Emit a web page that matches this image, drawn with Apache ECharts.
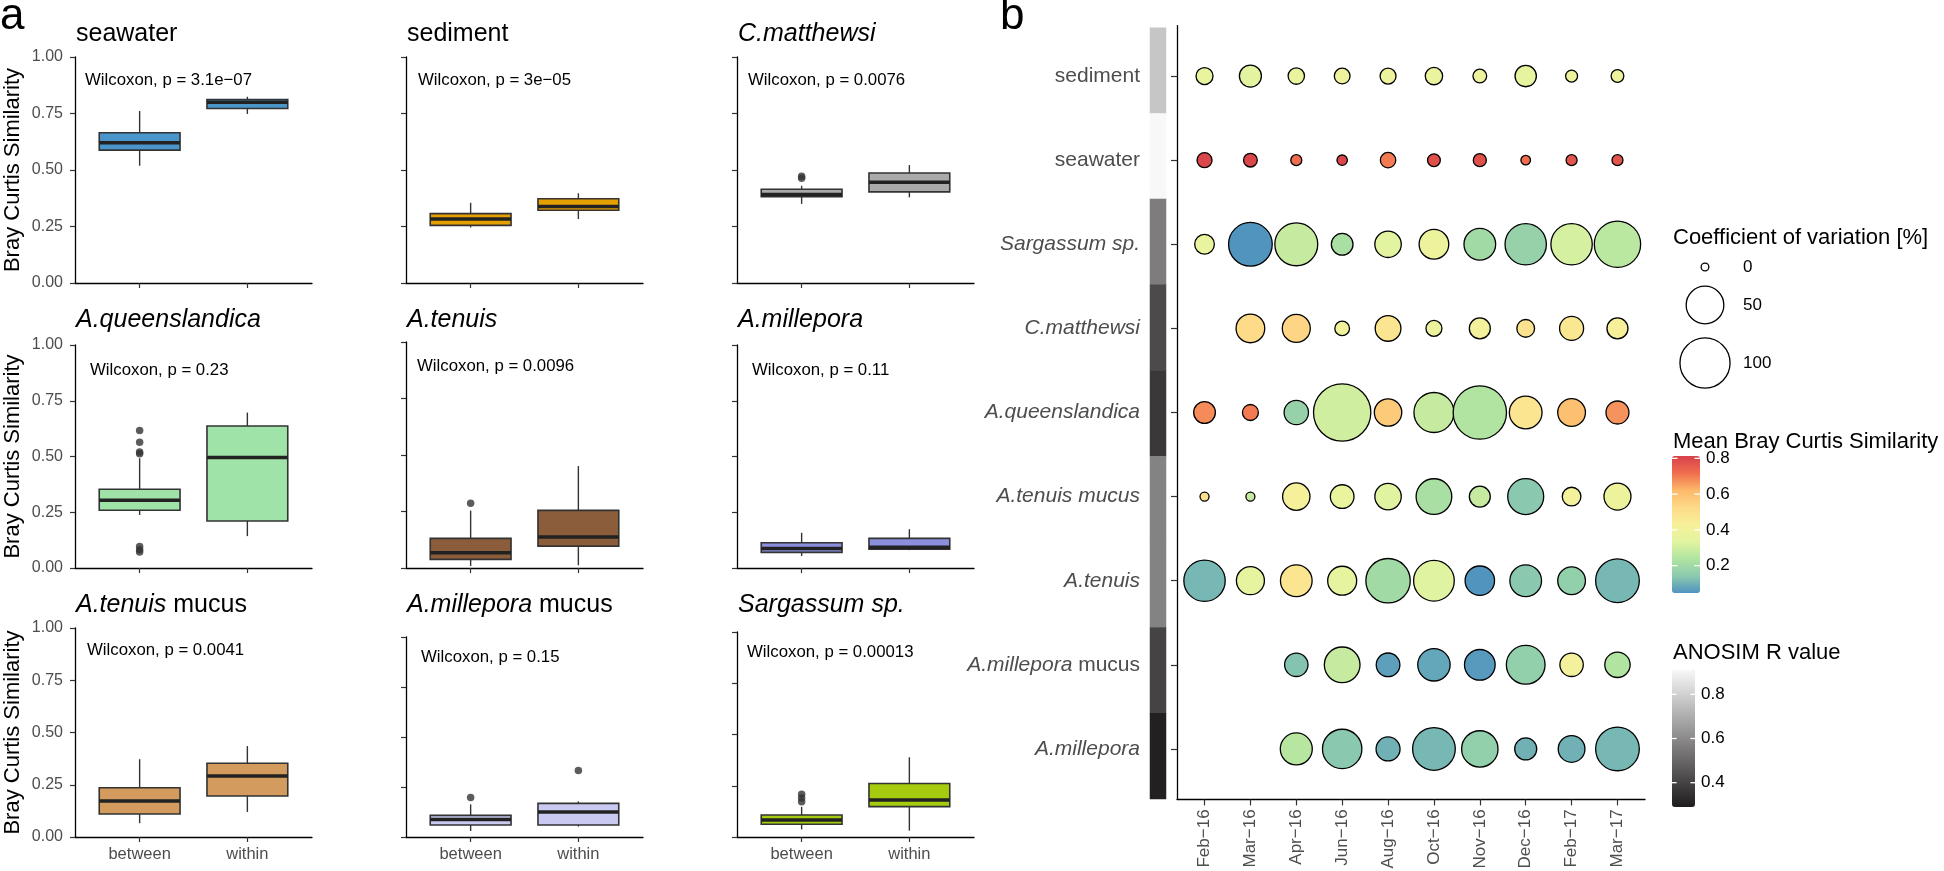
<!DOCTYPE html>
<html><head><meta charset="utf-8">
<script src="https://cdn.jsdelivr.net/npm/echarts@6/dist/echarts.min.js"></script>
<style>html,body{margin:0;padding:0;background:#fff}#c{width:1944px;height:871px}</style>
</head><body><div id="c"></div>
<script>
const FONT = 'Liberation Sans, Arial, Helvetica, sans-serif';

// ---------------- Panel a data ----------------
const boxPanels = ['seawater','sediment','C.matthewsi','A.queenslandica','A.tenuis','A.millepora','A.tenuis mucus','A.millepora mucus','Sargassum sp.'];
const boxTitlesRich = ['{n|seawater}','{n|sediment}','{i|C.matthewsi}','{i|A.queenslandica}','{i|A.tenuis}','{i|A.millepora}','{i|A.tenuis}{n| mucus}','{i|A.millepora}{n| mucus}','{i|Sargassum sp.}'];
const boxCategories = ['between','within'];
const pValues = ['3.1e\u221207','3e\u221205','0.0076','0.23','0.0096','0.11','0.0041','0.15','0.00013'];
const yTicks = [0, 0.25, 0.5, 0.75, 1];
// [lower whisker, Q1, median, Q3, upper whisker]  -> [between, within]
const statsSeawater  = [[0.519,0.588,0.621,0.665,0.761],[0.748,0.772,0.800,0.812,0.824]];
const statsSediment  = [[0.246,0.255,0.283,0.307,0.355],[0.283,0.322,0.338,0.373,0.397]];
const statsCmatthewsi= [[0.350,0.382,0.392,0.415,0.430],[0.379,0.403,0.446,0.487,0.522]];
const statsAqueens   = [[0.238,0.259,0.304,0.353,0.492],[0.143,0.211,0.496,0.637,0.697]];
const statsAtenuis   = [[0.009,0.038,0.068,0.131,0.254],[0.012,0.097,0.137,0.255,0.451]];
const statsAmillepora= [[0.054,0.070,0.088,0.113,0.158],[0.080,0.084,0.093,0.133,0.174]];
const statsAtenMucus = [[0.066,0.110,0.172,0.236,0.372],[0.120,0.196,0.292,0.353,0.435]];
const statsAmilMucus = [[0.030,0.060,0.087,0.108,0.163],[0.052,0.060,0.125,0.168,0.178]];
const statsSargassum = [[0.037,0.062,0.083,0.107,0.147],[0.031,0.148,0.180,0.261,0.389]];
// outliers [between, within]
const outSeawater  = [[],[]];
const outSediment  = [[],[]];
const outCmatthewsi= [[0.463,0.472],[]];
const outAqueens   = [[0.617,0.564,0.520,0.512,0.096,0.082,0.072],[]];
const outAtenuis   = [[0.286],[]];
const outAmillepora= [[],[]];
const outAtenMucus = [[],[]];
const outAmilMucus = [[0.197],[0.332]];
const outSargassum = [[0.208,0.190,0.172],[]];
const boxColors = ['#4a95c9','#e69f00','#aaaaaa','#a0e3a8','#8c5d3a','#8b8fdc','#d39b5e','#c9c9f2','#a5cc0f'];

const allStats = [statsSeawater,statsSediment,statsCmatthewsi,statsAqueens,statsAtenuis,statsAmillepora,statsAtenMucus,statsAmilMucus,statsSargassum];
const allOut = [outSeawater,outSediment,outCmatthewsi,outAqueens,outAtenuis,outAmillepora,outAtenMucus,outAmilMucus,outSargassum];

// ---------------- Panel b data ----------------
const months = ['Feb\u221216','Mar\u221216','Apr\u221216','Jun\u221216','Aug\u221216','Oct\u221216','Nov\u221216','Dec\u221216','Feb\u221217','Mar\u221217'];
const groups = ['sediment','seawater','Sargassum sp.','C.matthewsi','A.queenslandica','A.tenuis mucus','A.tenuis','A.millepora mucus','A.millepora'];
const groupLabelsRich = ['{n|sediment}','{n|seawater}','{i|Sargassum sp.}','{i|C.matthewsi}','{i|A.queenslandica}','{i|A.tenuis mucus}','{i|A.tenuis}','{i|A.millepora}{n| mucus}','{i|A.millepora}'];
// coefficient of variation [%]
const cvSediment   = [4.8, 11.4, 4.2, 3.6, 3.8, 5.2, 2.0, 10.4, 1.0, 1.4];
const cvSeawater   = [3.0, 2.0, 0.6, 0.4, 3.3, 1.4, 1.6, 0.2, 0.6, 0.6];
const cvSargassum  = [8.0, 72, 69, 10.9, 19.5, 26.9, 32, 63, 63, 83];
const cvCmatthewsi = [null, 24.5, 22.9, 2.7, 18, 3.8, 9.8, 5.6, 14.8, 9.8];
const cvAqueens    = [10.9, 3.8, 15.5, 137, 21.6, 58, 116, 34.8, 22.3, 13];
const cvAtenMucus  = [0.1, 0.1, 21.6, 14.2, 19.5, 43.6, 9.8, 44.5, 6.7, 20.7];
const cvAtenuis    = [63, 22.9, 32, 25.2, 75, 60.5, 26.2, 32, 22.3, 72];
const cvAmilMucus  = [null, null, 13.7, 43.6, 14.2, 33.9, 29.4, 53.5, 13.7, 17.4];
const cvAmillepora = [null, null, 32.8, 55.9, 14.8, 68.1, 45.8, 11.4, 20.1, 72];
// mean Bray Curtis similarity
const mbcSediment   = [0.37,0.34,0.37,0.38,0.38,0.37,0.39,0.35,0.39,0.38];
const mbcSeawater   = [0.80,0.80,0.72,0.80,0.70,0.78,0.78,0.72,0.77,0.77];
const mbcSargassum  = [0.37,0.05,0.28,0.22,0.34,0.38,0.20,0.17,0.31,0.26];
const mbcCmatthewsi = [null,0.52,0.54,0.40,0.48,0.38,0.41,0.49,0.47,0.42];
const mbcAqueens    = [0.68,0.70,0.17,0.30,0.57,0.28,0.24,0.48,0.60,0.67];
const mbcAtenMucus  = [0.50,0.28,0.42,0.37,0.33,0.22,0.28,0.14,0.41,0.38];
const mbcAtenuis    = [0.11,0.35,0.48,0.35,0.20,0.33,0.05,0.14,0.16,0.11];
const mbcAmilMucus  = [null,null,0.13,0.28,0.07,0.08,0.06,0.16,0.41,0.24];
const mbcAmillepora = [null,null,0.25,0.14,0.10,0.11,0.16,0.10,0.10,0.11];
// ANOSIM R per group
const anosimR = [0.77, 0.91, 0.56, 0.42, 0.37, 0.58, 0.58, 0.40, 0.30];
const sizeLegendValues = [0, 50, 100];
const mbcTicks = [0.2, 0.4, 0.6, 0.8];
const anosimTicks = [0.4, 0.6, 0.8];
const mbcRange = [0.047, 0.813];
const anosimRange = [0.29, 0.91];
const mbcPalette = ['#4f93c0','#8ccaae','#b0e4a0','#e2f4a0','#f8f09a','#fdda88','#fdb86a','#ef6e4e','#d8404a'];

const allCv = [cvSediment,cvSeawater,cvSargassum,cvCmatthewsi,cvAqueens,cvAtenMucus,cvAtenuis,cvAmilMucus,cvAmillepora];
const allMbc = [mbcSediment,mbcSeawater,mbcSargassum,mbcCmatthewsi,mbcAqueens,mbcAtenMucus,mbcAtenuis,mbcAmilMucus,mbcAmillepora];

// ---------------- layout ----------------
const panelLayout = [
  {left:75, top:57, bottom:283},{left:406, top:57, bottom:283},{left:737, top:57, bottom:283},
  {left:75, top:345, bottom:568},{left:406, top:342, bottom:568},{left:737, top:345, bottom:568},
  {left:75, top:628, bottom:837},{left:406, top:637, bottom:837},{left:737, top:632, bottom:837}];
const panelW = 237;
const titleY = [34.5,34.5,34.5,320.5,320,320.5,605.5,605,605];
const wilcoxPos = [[85,80],[418,80],[748,80],[90,370],[417,366],[752,370],[87,650],[421,657],[747,652]];

function bubbleSize(cv){ return 9 + 4.24*Math.sqrt(cv) - 1.3; }

function boxRenderer(color){
  return function(params, api){
    const x = api.value(0);
    const lo = api.coord([x, api.value(1)]);
    const q1 = api.coord([x, api.value(2)]);
    const md = api.coord([x, api.value(3)]);
    const q3 = api.coord([x, api.value(4)]);
    const hi = api.coord([x, api.value(5)]);
    const half = api.size([0.375, 0])[0];
    const cx = lo[0];
    return {type:'group', children:[
      {type:'line', shape:{x1:cx,y1:hi[1],x2:cx,y2:q3[1]}, style:{stroke:'#333333',lineWidth:1.4}},
      {type:'line', shape:{x1:cx,y1:q1[1],x2:cx,y2:lo[1]}, style:{stroke:'#333333',lineWidth:1.4}},
      {type:'rect', shape:{x:cx-half,y:q3[1],width:2*half,height:Math.max(q1[1]-q3[1],0.5)}, style:{fill:color,stroke:'#333333',lineWidth:1.6}},
      {type:'line', shape:{x1:cx-half,y1:md[1],x2:cx+half,y2:md[1]}, style:{stroke:'#222222',lineWidth:3.5}}
    ]};
  };
}

const grids = [], xAxes = [], yAxes = [], series = [], graphics = [];
const richTitle = {
  i:{fontStyle:'italic', fontSize:25, fontFamily:FONT, fill:'#000'},
  n:{fontSize:25, fontFamily:FONT, fill:'#000'}
};

boxPanels.forEach((name, k) => {
  const L = panelLayout[k];
  const col = k % 3, row = Math.floor(k/3);
  grids.push({left:L.left, top:L.top, width:panelW, height:L.bottom-L.top, outerBoundsMode:'none', containLabel:false});
  xAxes.push({
    type:'value', gridIndex:k, min:0.4, max:2.6,
    axisLine:{show:true, onZero:false, lineStyle:{color:'#000', width:1.3}},
    axisTick:{show:true, customValues:[1,2], length:5, lineStyle:{color:'#333', width:1.2}},
    axisLabel:{show: row===2, customValues:[1,2], margin:9, fontSize:16.5, color:'#4d4d4d', fontFamily:FONT,
      formatter: v => boxCategories[Math.round(v)-1]},
    splitLine:{show:false}
  });
  yAxes.push({
    type:'value', gridIndex:k, min:0, max:1, interval:0.25,
    axisLine:{show:true, lineStyle:{color:'#000', width:1.3}},
    axisTick:{show:true, length:5, lineStyle:{color:'#333', width:1.2}},
    axisLabel:{show: col===0, margin:12, fontSize:16, color:'#4d4d4d', fontFamily:FONT, formatter: v => v.toFixed(2)},
    splitLine:{show:false},
    name: col===0 ? 'Bray Curtis Similarity' : '',
    nameLocation:'middle', nameGap:51, nameRotate:90, nameMoveOverlap:false,
    nameTextStyle:{fontSize:22, color:'#000', fontFamily:FONT}
  });
  const st = allStats[k];
  series.push({
    type:'custom', xAxisIndex:k, yAxisIndex:k, renderItem: boxRenderer(boxColors[k]),
    encode:{x:0, y:[1,2,3,4,5]},
    data: boxCategories.map((c, j) => [j+1].concat(st[j])),
    silent:true, animation:false
  });
  const outs = [];
  allOut[k].forEach((arr, j) => arr.forEach(v => outs.push([j+1, v])));
  series.push({
    type:'scatter', xAxisIndex:k, yAxisIndex:k, data:outs, symbol:'circle', symbolSize:7.5,
    itemStyle:{color:'#333333'}, silent:true, animation:false
  });
  graphics.push({type:'text', style:{text:boxTitlesRich[k], rich:richTitle, x:L.left+1, y:titleY[k], verticalAlign:'middle', align:'left'}});
  graphics.push({type:'text', style:{text:'Wilcoxon, p = ' + pValues[k], x:wilcoxPos[k][0], y:wilcoxPos[k][1],
    verticalAlign:'middle', align:'left', font:'16.8px ' + FONT, fill:'#000'}});
});

// panel letters
graphics.push({type:'text', style:{text:'a', x:0, y:17, verticalAlign:'middle', font:'44px ' + FONT, fill:'#000'}});
graphics.push({type:'text', style:{text:'b', x:1000, y:17, verticalAlign:'middle', font:'44px ' + FONT, fill:'#000'}});

// ---------------- Panel b: bubble grid ----------------
const BG = 9;
grids.push({left:1177, top:25.6, width:468, height:773.8, outerBoundsMode:'none', containLabel:false});
const axisRich = {
  i:{fontStyle:'italic', fontSize:21, color:'#4d4d4d', fontFamily:FONT},
  n:{fontSize:21, color:'#4d4d4d', fontFamily:FONT}
};
xAxes.push({
  type:'value', gridIndex:BG, min:-0.6, max:9.6,
  axisLine:{show:true, onZero:false, lineStyle:{color:'#000', width:1.3}},
  axisTick:{show:true, customValues:months.map((m,i)=>i), length:6, lineStyle:{color:'#333', width:1.2}},
  axisLabel:{show:true, customValues:months.map((m,i)=>i), rotate:90, margin:10, fontSize:17, color:'#4d4d4d', fontFamily:FONT,
    formatter: v => months[Math.round(v)]},
  splitLine:{show:false}
});
yAxes.push({
  type:'value', gridIndex:BG, min:-0.6, max:8.6, inverse:true,
  axisLine:{show:true, onZero:false, lineStyle:{color:'#000', width:1.3}},
  axisTick:{show:true, customValues:groups.map((g,i)=>i), length:6, lineStyle:{color:'#333', width:1.2}},
  axisLabel:{show:true, customValues:groups.map((g,i)=>i), margin:37, rich:axisRich,
    formatter: v => groupLabelsRich[Math.round(v)]},
  splitLine:{show:false}
});
const bubbleData = [];
groups.forEach((g, gi) => {
  months.forEach((m, mi) => {
    const cv = allCv[gi][mi], mbc = allMbc[gi][mi];
    if (cv !== null && mbc !== null) bubbleData.push([mi, gi, cv, mbc]);
  });
});
const bubbleSeriesIndex = series.length;
series.push({
  type:'scatter', xAxisIndex:BG, yAxisIndex:BG, data:bubbleData, symbol:'circle',
  symbolSize: val => bubbleSize(val[2]),
  itemStyle:{borderColor:'#000', borderWidth:1.3, opacity:1},
  silent:true, animation:false
});

// ANOSIM strip
const SG = 10;
grids.push({left:1150, top:27.7, width:16, height:771.3, outerBoundsMode:'none', containLabel:false});
xAxes.push({type:'category', gridIndex:SG, data:[''], show:false});
yAxes.push({type:'category', gridIndex:SG, data:groups, inverse:true, show:false});
const stripSeriesIndex = series.length;
series.push({
  type:'heatmap', xAxisIndex:SG, yAxisIndex:SG, data: groups.map((g,i)=>[0,i,anosimR[i]]),
  itemStyle:{borderWidth:0}, silent:true, animation:false
});

// ---------------- legends ----------------
const LX = 1673;
graphics.push({type:'text', style:{text:'Coefficient of variation [%]', x:LX, y:238, verticalAlign:'middle', font:'22px ' + FONT, fill:'#000'}});
const sizeLegendY = [267, 305, 363];
sizeLegendValues.forEach((v, i) => {
  graphics.push({type:'circle', shape:{cx:1705, cy:sizeLegendY[i], r:bubbleSize(v)/2}, style:{fill:'#fff', stroke:'#000', lineWidth:1.3}});
  graphics.push({type:'text', style:{text:String(v), x:1743, y:sizeLegendY[i], verticalAlign:'middle', font:'17px ' + FONT, fill:'#000'}});
});
graphics.push({type:'text', style:{text:'Mean Bray Curtis Similarity', x:LX, y:442, verticalAlign:'middle', font:'22px ' + FONT, fill:'#000'}});
graphics.push({type:'text', style:{text:'ANOSIM R value', x:LX, y:653, verticalAlign:'middle', font:'22px ' + FONT, fill:'#000'}});

const mbcBar = {x:1672, y:456, w:28, h:137};
const anoBar = {x:1672, y:670, w:23, h:137};
function barTicks(bar, range, ticks){
  ticks.forEach(t => {
    const y = bar.y + (range[1]-t)/(range[1]-range[0])*bar.h;
    graphics.push({type:'line', z:100, shape:{x1:bar.x, y1:y, x2:bar.x+bar.w/5, y2:y}, style:{stroke:'#fff', lineWidth:1.3}});
    graphics.push({type:'line', z:100, shape:{x1:bar.x+bar.w*4/5, y1:y, x2:bar.x+bar.w, y2:y}, style:{stroke:'#fff', lineWidth:1.3}});
    graphics.push({type:'text', style:{text:t.toFixed(1), x:bar.x+bar.w+6, y:y, verticalAlign:'middle', font:'17px ' + FONT, fill:'#000'}});
  });
}
barTicks(mbcBar, mbcRange, mbcTicks);
barTicks(anoBar, anosimRange, anosimTicks);

const option = {
  backgroundColor:'#fff',
  animation:false,
  textStyle:{fontFamily:FONT},
  grid:grids, xAxis:xAxes, yAxis:yAxes, series:series,
  visualMap:[
    {type:'continuous', seriesIndex:bubbleSeriesIndex, dimension:3, min:mbcRange[0], max:mbcRange[1],
     inRange:{color:mbcPalette}, left:mbcBar.x, top:mbcBar.y, itemWidth:mbcBar.w, itemHeight:mbcBar.h,
     padding:0, calculable:false, text:null, showLabel:false, hoverLink:false, realtime:false},
    {type:'continuous', seriesIndex:stripSeriesIndex, dimension:2, min:anosimRange[0], max:anosimRange[1],
     inRange:{color:['#1f1c1d','#f8f8f8']}, left:anoBar.x, top:anoBar.y, itemWidth:anoBar.w, itemHeight:anoBar.h,
     padding:0, calculable:false, text:null, showLabel:false, hoverLink:false, realtime:false}
  ],
  graphic:{elements:graphics}
};
const chart = echarts.init(document.getElementById('c'), null, {renderer:'canvas'});
chart.setOption(option);
</script></body></html>
